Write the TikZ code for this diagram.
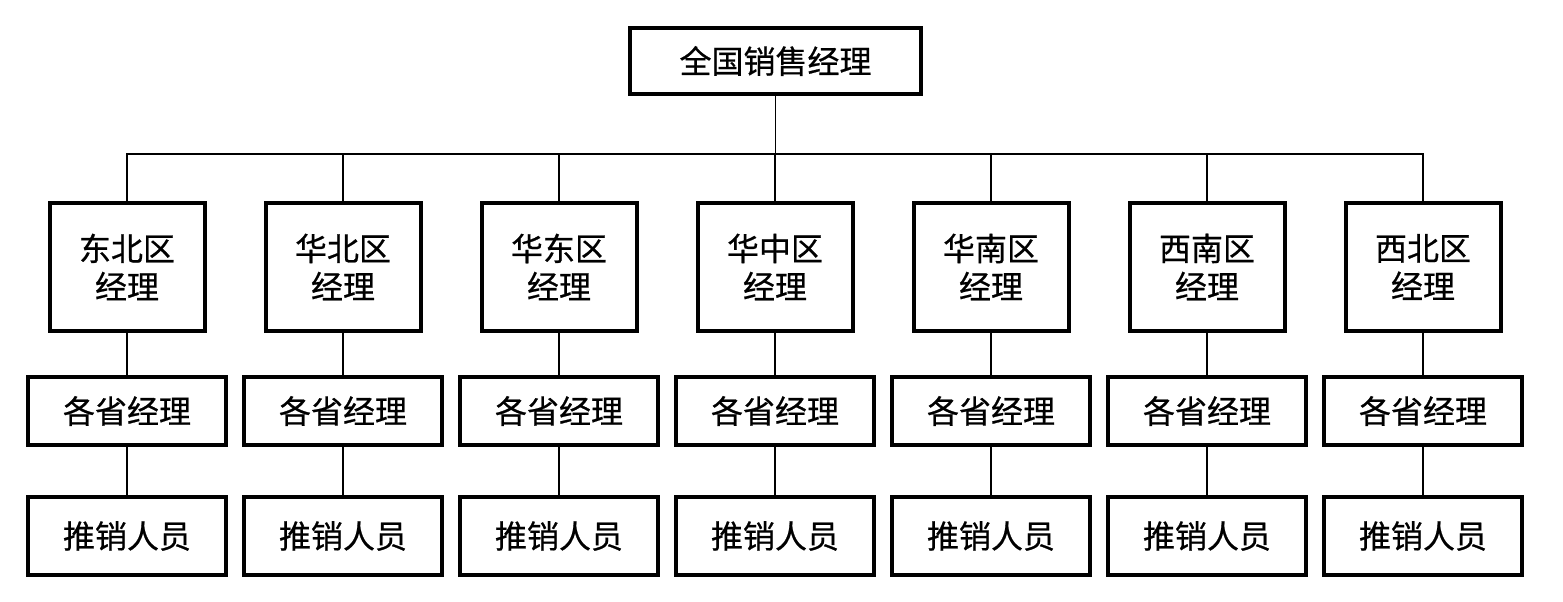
\documentclass[tikz,border=0pt]{standalone}
\usepackage{fontspec}
\setmainfont{Noto Sans CJK SC}[FakeBold=0.6]
\usetikzlibrary{positioning}

\begin{document}
\begin{tikzpicture}[x=1pt, y=-1pt,
    box/.style={draw, line width=4pt, inner sep=0pt, align=center, font=\fontsize{32}{38}\selectfont},
    regionbox/.style={box, minimum width=155pt, minimum height=128pt},
    provbox/.style={box, minimum width=198pt, minimum height=68pt},
    salesbox/.style={box, minimum width=198pt, minimum height=78pt},
    link/.style={line width=1.5pt}]
    \useasboundingbox (0,0) rectangle (1563,602);
    % top of the chart
    \node[box, minimum width=291pt, minimum height=66pt] (top) at (775.5,61) {全国销售经理};
    \coordinate (bus) at (775.5,154);
    % one column per region
    \foreach \name [count=\i] in {东北,华北,华东,华中,华南,西南,西北} {
      \node[regionbox] (r\i) at ({127+216*(\i-1)},267) {\name 区\\经理};
      \node[provbox] (p\i) at ({127+216*(\i-1)},411) {各省经理};
      \node[salesbox] (s\i) at ({127+216*(\i-1)},536) {推销人员};
      \draw[link] (top.south) -- (bus) -| (r\i.north);
      \draw[link] (r\i.south) -- (p\i.north);
      \draw[link] (p\i.south) -- (s\i.north);
    }
  \end{tikzpicture}
\end{document}
